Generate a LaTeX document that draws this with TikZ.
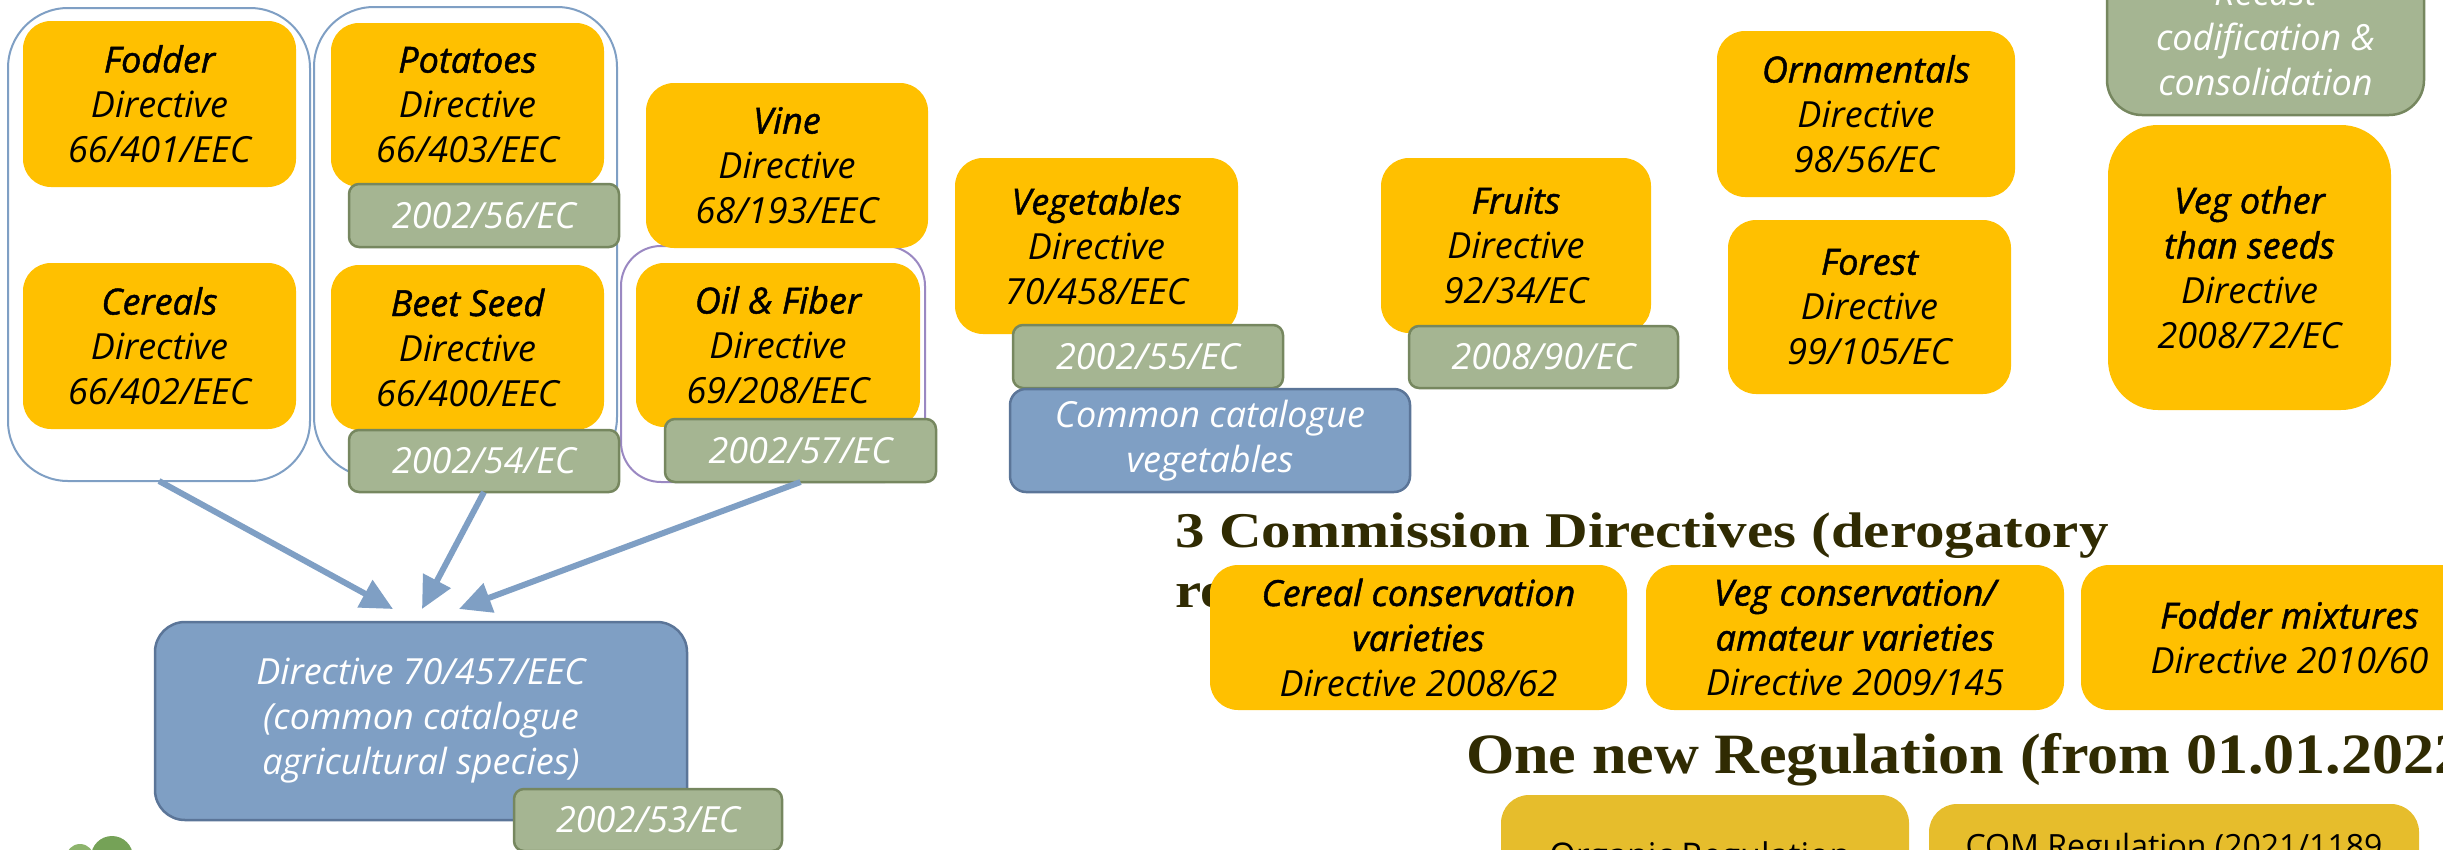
\documentclass[tikz,border=0pt]{standalone}
\usepackage{fontspec}
\setmainfont{Open Sans}
\newfontfamily\osr{Open Sans}
\newfontfamily\ossb{Open Sans}[FakeBold=1.3]
\newfontfamily\titlefonta{Liberation Serif}[FakeStretch=1.18]
\newfontfamily\titlefontb{Liberation Serif}[FakeStretch=1.09]
\usetikzlibrary{arrows.meta}
\definecolor{yel}{HTML}{FFC000}
\definecolor{gold2}{HTML}{E6BD2C}
\definecolor{grn}{HTML}{A5B592}
\definecolor{grnd}{HTML}{76875F}
\definecolor{blu}{HTML}{7F9FC4}
\definecolor{blud}{HTML}{5B7598}
\definecolor{grpblue}{HTML}{7F9FC4}
\definecolor{grppurple}{HTML}{9A88C2}
\definecolor{titlecol}{HTML}{302B02}
\definecolor{blobl}{HTML}{8DB46C}
\definecolor{blobd}{HTML}{75A257}
\newcommand\nm[1]{{\ossb\itshape #1}}
\tikzset{
  every node/.style={inner sep=0pt, outer sep=0pt},
  sz/.style 2 args={minimum width=#1pt, minimum height=#2pt},
  basebox/.style={rectangle, align=center, font=\osr\itshape\fontsize{36}{45}\selectfont},
  ybox/.style={basebox, fill=yel, rounded corners=28pt, text=black},
  gbox/.style={basebox, fill=grn, draw=grnd, line width=2.5pt, rounded corners=10pt, text=white},
  bbox/.style={basebox, fill=blu, draw=blud, line width=2.5pt, rounded corners=16pt, text=white},
  grp/.style={rectangle, draw=grpblue, line width=2pt, fill=white, rounded corners=60pt},
  arr/.style={draw=blu, line width=6pt, -{Triangle[length=32pt,width=30pt]}},
  ttl/.style={anchor=base west, text=titlecol, font=\titlefonta\bfseries\fontsize{50}{60}\selectfont},
}
\begin{document}
\begin{tikzpicture}[x=1pt,y=-1pt]
\useasboundingbox (0,0) rectangle (2443,849);
\clip (0,0) rectangle (2443,849);
% titles
\node[ttl] (title1) at (1175,547) {3 Commission Directives (derogatory};
\node[ttl] (title1b) at (1175,607) {re};
\node[ttl, font=\titlefontb\bfseries\fontsize{57}{60}\selectfont] (title2) at (1466,773) {One new Regulation (from 01.01.2022)};
% groups
\node[grp, sz={302}{473}] (g1) at (159,244.5) {};
\node[grp, sz={303}{470}] (g2) at (465.5,242) {};
\node[grp, draw=grppurple, rounded corners=40pt, sz={304}{236}] (g3) at (773,364) {};
% yellow boxes
\node[ybox, sz={273}{166}] (fodder) at (159.5,104) {\nm{Fodder}\\Directive\\66/401/EEC};
\node[ybox, sz={273}{166}] (cereals) at (159.5,346) {\nm{Cereals}\\Directive\\66/402/EEC};
\node[ybox, sz={273}{164}] (potatoes) at (467.5,105) {\nm{Potatoes}\\Directive\\66/403/EEC};
\node[ybox, sz={273}{165}] (beet) at (467.5,347.5) {\nm{Beet Seed}\\Directive\\66/400/EEC};
\node[ybox, sz={282}{165}] (vine) at (787,165.5) {\nm{Vine}\\Directive\\68/193/EEC};
\node[ybox, sz={284}{164}] (oil) at (778,345) {\nm{Oil \& Fiber}\\Directive\\69/208/EEC};
\node[ybox, sz={283}{176}] (veg) at (1096.5,246) {\nm{Vegetables}\\Directive\\70/458/EEC};
\node[ybox, sz={270}{175}] (fruits) at (1516,245.5) {\nm{Fruits}\\Directive\\92/34/EC};
\node[ybox, sz={298}{166}] (ornam) at (1866,114) {\nm{Ornamentals}\\Directive\\98/56/EC};
\node[ybox, sz={283}{174}] (forest) at (1869.5,307) {\nm{Forest}\\Directive\\99/105/EC};
\node[ybox, rounded corners=50pt, sz={283}{285}] (vegother) at (2249.5,267.5) {\nm{Veg other}\\\nm{than seeds}\\Directive\\2008/72/EC};
\node[ybox, sz={417}{145}] (cercons) at (1418.5,637.5) {\nm{Cereal conservation}\\\nm{varieties}\\Directive 2008/62};
\node[ybox, sz={418}{145}] (vegcons) at (1855,637.5) {\nm{Veg conservation/}\\\nm{amateur varieties}\\Directive 2009/145};
\node[ybox, sz={417}{145}] (foddermix) at (2289.5,637.5) {\nm{Fodder mixtures}\\Directive 2010/60};
\node[ybox, fill=gold2, sz={408}{160}] (organic) at (1705,875) {};
\node[ybox, fill=gold2, sz={490}{160}] (com) at (2174,884) {};
\node[anchor=base, font=\osr\fontsize{34}{40}\selectfont] (organict) at (1700,867) {Organic Regulation};
\node[anchor=base, font=\osr\fontsize{32}{40}\selectfont] (comt) at (2174,857) {COM Regulation (2021/1189};
% green boxes
\node[gbox, sz={270}{63}] (s56) at (484,215.5) {2002/56/EC};
\node[gbox, sz={270}{62}] (s54) at (484,461) {2002/54/EC};
\node[gbox, sz={271}{63}] (s57) at (800.5,450.5) {2002/57/EC};
\node[gbox, sz={270}{63}] (s55) at (1148,356.5) {2002/55/EC};
\node[gbox, sz={269}{62}] (s90) at (1543.5,357) {2008/90/EC};
\node[gbox, rounded corners=35pt, sz={317}{155}] (recast) at (2265.5,37.5) {Recast\\codification \&\\consolidation};
% blue boxes
\node[bbox, sz={400}{103}] (common) at (1210,440.5) {Common catalogue\\vegetables};
\node[bbox, rounded corners=30pt, sz={532}{198}] (main) at (421,721) {Directive 70/457/EEC\\(common catalogue\\agricultural species)};
\node[gbox, sz={268}{62}] (s53) at (648,820) {2002/53/EC};
% arrows
\coordinate (t1) at (393,609);
\coordinate (t2) at (422,609);
\coordinate (t3) at (459,609);
\draw[arr] (g1.south) -- (t1);
\draw[arr] (s54.south) -- (t2);
\draw[arr] (s57.south) -- (t3);
% logo fragment
\fill[blobl] (80,858) circle[radius=14pt];
\fill[blobd] (112,857) circle[radius=21pt];
\end{tikzpicture}
\end{document}
